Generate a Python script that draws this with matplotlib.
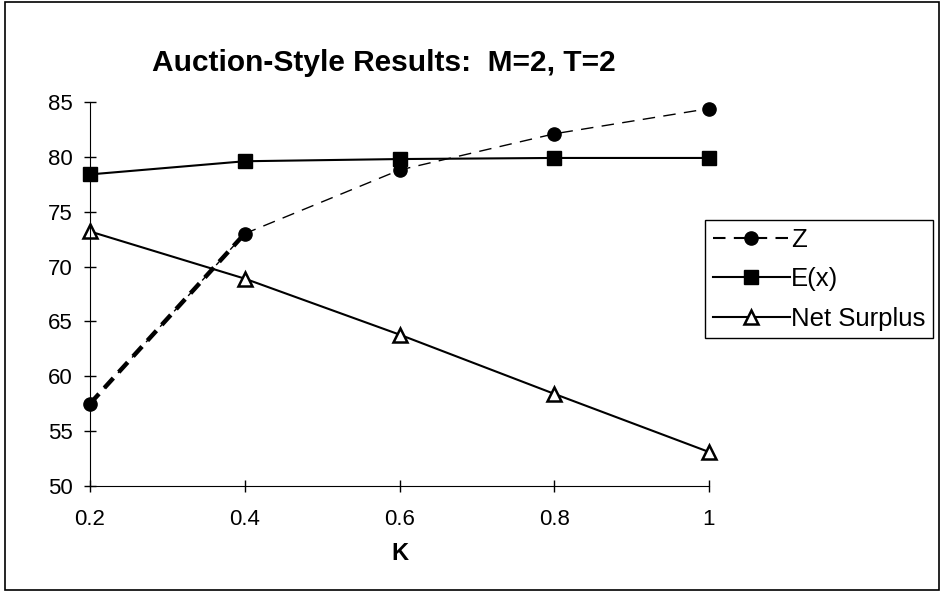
import matplotlib.pyplot as plt
from matplotlib.patches import Rectangle

plt.rcParams['font.family'] = ['Liberation Sans', 'DejaVu Sans']

k = [0.2, 0.4, 0.6, 0.8, 1.0]
z = [57.5, 73.0, 78.8, 82.1, 84.4]
ex = [78.4, 79.6, 79.8, 79.9, 79.9]
net_surplus = [73.2, 68.9, 63.8, 58.4, 53.1]

fig = plt.figure(figsize=(9.42, 5.92), dpi=100)
ax = fig.add_axes([90 / 942, 106 / 592, 619 / 942, 384 / 592])

# Z: thin dashed line, heavier dashes on the first segment
ax.plot(k[:2], z[:2], color='black', linestyle=(0, (3, 1.8)), linewidth=3.2,
        clip_on=False)
ax.plot(k, z, color='black', linestyle=(0, (9, 6)), linewidth=1.0,
        marker='o', markersize=9.5, label='Z', clip_on=False)
ax.plot(k, ex, color='black', linewidth=1.5, marker='s', markersize=9.5,
        label='E(x)', clip_on=False)
ax.plot(k, net_surplus, color='black', linewidth=1.5, marker='^',
        markersize=9.5, markerfacecolor='white', markeredgewidth=1.8,
        label='Net Surplus', clip_on=False)

ax.set_xlim(0.2, 1.0)
ax.set_ylim(50, 85)
ax.set_xticks(k)
ax.set_xticklabels(['0.2', '0.4', '0.6', '0.8', '1'])
ax.set_yticks(range(50, 86, 5))
ax.tick_params(direction='inout', length=9, width=1, labelsize=16)
ax.tick_params(axis='x', pad=12)
ax.tick_params(axis='y', pad=8)
for side in ['top', 'right']:
    ax.spines[side].set_visible(False)
ax.set_xlabel('K', fontsize=17, fontweight='bold', labelpad=9)

ax.set_title('Auction-Style Results:  M=2, T=2', fontsize=21.5,
             fontweight='bold', x=0.475, pad=22)

leg = fig.legend(loc='upper left', bbox_to_anchor=(705 / 942, 1 - 220 / 592),
                 fontsize=18.5, handlelength=3.0, labelspacing=0.6,
                 handletextpad=0.05, borderpad=0.3, borderaxespad=0,
                 fancybox=False, edgecolor='black', framealpha=1)
leg.get_frame().set_linewidth(1.0)
leg.legend_handles[0].set_linestyle((0, (6, 4)))
leg.legend_handles[0].set_linewidth(1.5)

# outer chart border
fig.patches.append(Rectangle((5 / 942, 0.003), 934 / 942, 1 - 2 / 592 - 0.003,
                             transform=fig.transFigure, fill=False,
                             edgecolor='black', linewidth=1.2))

fig.savefig('out.png', dpi=100)
